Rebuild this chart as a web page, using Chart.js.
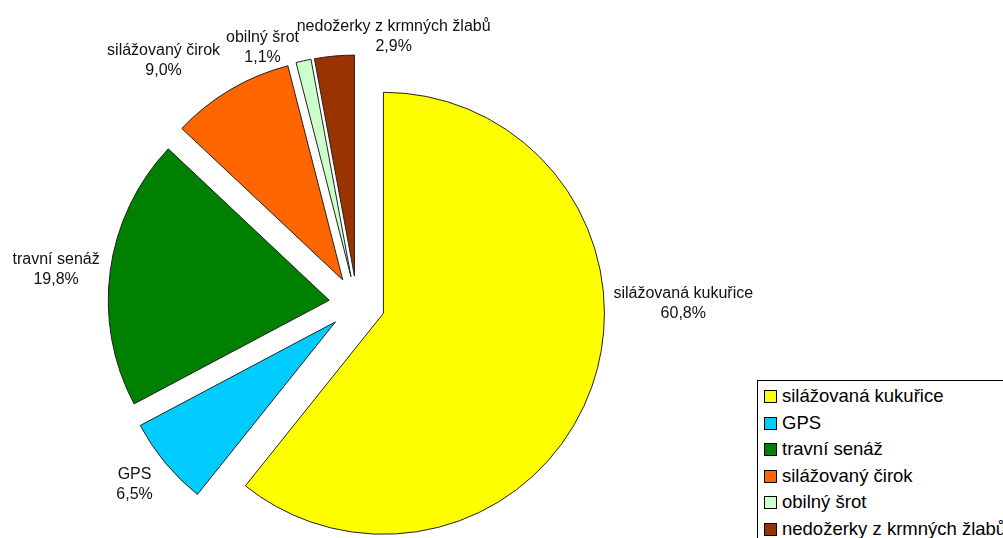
<!DOCTYPE html>
<html>
<head>
<meta charset="utf-8">
<script src="https://cdn.jsdelivr.net/npm/chart.js@4.4.1/dist/chart.umd.min.js"></script>
<style>
  html, body { margin: 0; padding: 0; background: #fff; overflow: hidden; }
  #wrap { position: relative; width: 1003px; height: 538px; }
  #legend {
    position: absolute; left: 757px; top: 380px; width: 300px; height: 200px;
    border: 1px solid #000; background: #fff;
    font-family: "Liberation Sans", Arial, sans-serif; font-size: 18.5px; color: #000;
  }
  #legend .row { position: absolute; left: 6px; height: 26px; line-height: 26px; white-space: nowrap; }
  #legend .key { display: inline-block; width: 11px; height: 11px; border: 1px solid #000; margin-right: 5px; vertical-align: -1px; }
</style>
</head>
<body>
<div id="wrap">
  <canvas id="chart" width="1003" height="538"></canvas>
  <div id="legend"></div>
</div>
<script>
// data
const categories = ['silážovaná kukuřice', 'GPS', 'travní senáž', 'silážovaný čirok', 'obilný šrot', 'nedožerky z krmných žlabů'];
const shares = [60.8, 6.5, 19.8, 9.0, 1.1, 2.9];
const sliceColors = ['#FFFF00', '#00CCFF', '#008000', '#FF6600', '#CCFFCC', '#993300'];

// look
const EXPLODE = 28;
const FONT = '16px "Liberation Sans", Arial, sans-serif';
// label nudges from the default outside anchor (Excel "best fit" placement)
const labelNudge = [[16, -93], [-9, 3], [-1, 3], [-33, -3], [-31, 16], [69, 10]];

const pct = v => v.toFixed(1).replace('.', ',') + '%';

// explode every slice along its mid angle
const explodePlugin = {
    id: 'explode',
    beforeDatasetsDraw(chart) {
        const a = chart.chartArea;
        const cx = (a.left + a.right) / 2, cy = (a.top + a.bottom) / 2;
        chart.getDatasetMeta(0).data.forEach(arc => {
            const mid = (arc.startAngle + arc.endAngle) / 2;
            arc.x = cx + Math.cos(mid) * EXPLODE;
            arc.y = cy + Math.sin(mid) * EXPLODE;
        });
    }
};

// name + percentage outside each slice
const labelPlugin = {
    id: 'sliceLabels',
    afterDatasetsDraw(chart) {
        const ctx = chart.ctx;
        ctx.save();
        ctx.font = FONT;
        ctx.fillStyle = '#111';
        ctx.textAlign = 'center';
        ctx.textBaseline = 'middle';
        chart.getDatasetMeta(0).data.forEach((arc, i) => {
            const mid = (arc.startAngle + arc.endAngle) / 2;
            const dx = Math.cos(mid), dy = Math.sin(mid);
            const lines = [categories[i], pct(shares[i])];
            const halfW = Math.max(...lines.map(t => ctx.measureText(t).width)) / 2;
            const halfH = 20;
            const r = arc.outerRadius + 10;
            const x = arc.x + dx * r + dx * halfW + labelNudge[i][0];
            const y = arc.y + dy * r + dy * halfH + labelNudge[i][1];
            ctx.fillText(lines[0], x, y - 10);
            ctx.fillText(lines[1], x, y + 10);
        });
        ctx.restore();
    }
};

new Chart(document.getElementById('chart'), {
    type: 'pie',
    data: {
        labels: categories,
        datasets: [{
            data: shares,
            backgroundColor: sliceColors,
            borderColor: '#222',
            borderWidth: 1,
            borderJoinStyle: 'miter'
        }]
    },
    options: {
        responsive: false,
        animation: false,
        devicePixelRatio: 1,
        radius: 221,
        layout: { padding: { left: 0, right: 289, top: 70, bottom: 0 } },
        plugins: {
            legend: { display: false },
            tooltip: { enabled: false }
        }
    },
    plugins: [explodePlugin, labelPlugin]
});

// legend
const legend = document.getElementById('legend');
categories.forEach((name, i) => {
    const row = document.createElement('div');
    row.className = 'row';
    row.style.top = (2 + i * 26.5) + 'px';
    row.innerHTML = `<span class="key" style="background:${sliceColors[i]}"></span>${name}`;
    legend.appendChild(row);
});
</script>
</body>
</html>
